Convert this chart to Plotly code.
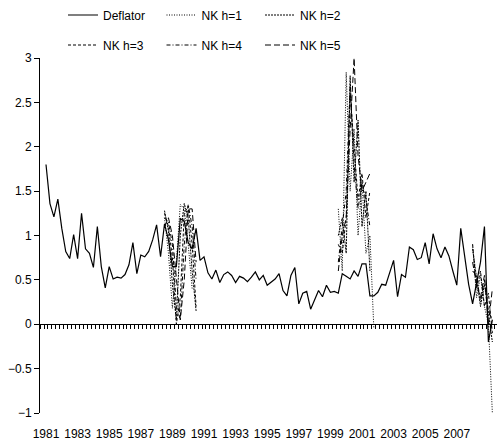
import plotly.graph_objects as go

# Quarterly sample, 1981Q1 - 2009Q2
start_year = 1981
deflator = [1.80, 1.36, 1.21, 1.41, 1.08, 0.82, 0.74, 1.01, 0.74, 1.25,
            0.85, 0.80, 0.64, 1.10, 0.65, 0.41, 0.65, 0.51, 0.53, 0.52,
            0.56, 0.67, 0.92, 0.57, 0.78, 0.76, 0.82, 0.95, 1.12, 0.76,
            1.13, 0.95, 0.65, 0.65, 1.19, 1.16, 0.92, 0.85, 1.08, 0.72,
            0.76, 0.58, 0.51, 0.61, 0.47, 0.56, 0.59, 0.55, 0.47, 0.54,
            0.52, 0.48, 0.53, 0.59, 0.50, 0.55, 0.44, 0.47, 0.51, 0.57,
            0.38, 0.32, 0.55, 0.64, 0.23, 0.35, 0.37, 0.17, 0.27, 0.38,
            0.31, 0.44, 0.36, 0.37, 0.35, 0.57, 0.54, 0.51, 0.60, 0.54,
            0.68, 0.68, 0.32, 0.32, 0.36, 0.45, 0.44, 0.58, 0.72, 0.31,
            0.56, 0.53, 0.87, 0.84, 0.73, 0.75, 0.92, 0.68, 1.02, 0.85,
            0.75, 0.87, 0.77, 0.60, 0.44, 1.08, 0.75, 0.45, 0.23, 0.45,
            0.70, 1.10, -0.20, 0.05]

# NK forecast windows: first quarter of each window
window_starts = ["1988Q3", "1999Q3", "2008Q1"]
nk_h1 = [[1.20, 0.80, 0.18, 0.70, 1.35, 1.30, 0.90, 0.40],
         [1.30, 0.60, 2.84, 1.50, 2.20, 1.00, 1.60, 0.80, 1.00, -0.05],
         [0.90, 0.30, 0.55, 0.20, 0.00, -1.00]]
nk_h2 = [[1.28, 1.05, 0.45, 0.05, 1.00, 1.36, 1.20, 0.60, 0.15],
         [1.00, 1.20, 0.80, 2.80, 1.60, 2.30, 1.10, 1.50, 0.60],
         [0.85, 0.50, 0.20, 0.45, 0.10, -0.20]]
nk_h3 = [[1.25, 1.10, 0.75, 0.00, 0.30, 1.25, 1.33, 0.90, 0.20],
         [0.90, 0.80, 1.20, 2.60, 2.00, 1.40, 1.70, 1.20, 1.50],
         [0.90, 0.40, 0.60, 0.20, 0.35, -0.10]]
nk_h4 = [[1.20, 1.15, 0.90, 0.20, 0.05, 0.90, 1.35, 1.10, 0.50],
         [0.70, 1.10, 1.50, 2.70, 1.80, 1.30, 1.60, 1.40, 1.10],
         [0.60, 0.55, 0.25, 0.50, 0.15, 0.05]]
nk_h5 = [[1.10, 1.20, 1.00, 0.50, 0.05, 0.50, 1.30, 1.30, 0.70],
         [0.60, 1.00, 1.20, 2.20, 3.00, 1.90, 1.50, 1.60, 1.70],
         [0.70, 0.45, 0.30, 0.55, 0.00, 0.40]]

n_quarters = len(deflator)
quarter_labels = [f"{start_year + i // 4}Q{i % 4 + 1}" for i in range(n_quarters)]
t = [start_year + i / 4 for i in range(n_quarters)]


def spread(windows):
    out = [None] * n_quarters
    for lab, vals in zip(window_starts, windows):
        s = quarter_labels.index(lab)
        for k, v in enumerate(vals):
            out[s + k] = v
    return out


series = [
    ("Deflator", deflator, "solid", 1.2, "legend"),
    ("NK h=1", spread(nk_h1), "1px,1.5px", 1, "legend"),
    ("NK h=2", spread(nk_h2), "2px,1px", 1, "legend"),
    ("NK h=3", spread(nk_h3), "3px,2px", 1, "legend2"),
    ("NK h=4", spread(nk_h4), "4px,2px,1px,2px", 1, "legend2"),
    ("NK h=5", spread(nk_h5), "6px,3px", 1, "legend2"),
]

fig = go.Figure()
for name, y, dash, w, leg in series:
    fig.add_trace(go.Scatter(x=t, y=y, name=name, mode="lines", legend=leg,
                             line=dict(color="black", width=w, dash=dash),
                             connectgaps=False))

font = dict(family="Liberation Sans, Arial, sans-serif", size=12, color="black")
px_per_year = 15.8
x0 = start_year - 6 / px_per_year
x1 = start_year + 451 / px_per_year

fig.update_layout(
    width=497, height=446,
    margin=dict(l=40, r=0, t=58, b=33),
    paper_bgcolor="white", plot_bgcolor="white",
    font=font,
    xaxis=dict(range=[x0, x1], tickmode="linear", tick0=1981, dtick=2,
               tickformat="d", showline=False, showgrid=False, zeroline=False,
               ticks="", ticklabelstandoff=12),
    xaxis2=dict(range=[x0, x1], overlaying="x", anchor="free", position=0.25,
                side="bottom", showticklabels=False, showgrid=False, zeroline=False,
                showline=True, linecolor="black", linewidth=1,
                tickmode="linear", tick0=start_year - 0.125, dtick=0.25,
                ticks="outside", ticklen=4, tickcolor="black", tickwidth=1),
    yaxis=dict(range=[-1, 3], tickmode="linear", tick0=-1, dtick=0.5,
               showgrid=False, zeroline=False, showline=True, linecolor="black",
               linewidth=1, ticks="outside", ticklen=5, tickcolor="black"),
    legend=dict(orientation="h", x=(63 - 40) / 457, xanchor="left",
                y=(413 - 15) / 355, yanchor="middle", entrywidth=53.5,
                font=font, bgcolor="rgba(0,0,0,0)"),
    legend2=dict(orientation="h", x=(63 - 40) / 457, xanchor="left",
                 y=(413 - 45) / 355, yanchor="middle", entrywidth=53.5,
                 font=font, bgcolor="rgba(0,0,0,0)"),
    showlegend=True,
)
# empty trace that switches on the zero-crossing category axis
fig.add_trace(go.Scatter(x=[x0], y=[None], xaxis="x2", showlegend=False,
                         hoverinfo="skip"))

fig.write_html("out.html")
